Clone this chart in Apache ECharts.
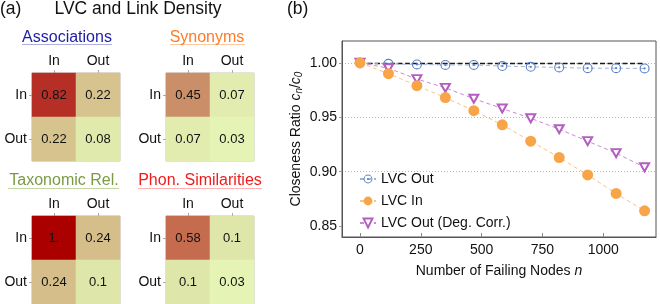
<!DOCTYPE html>
<html>
<head>
<meta charset="utf-8">
<script src="https://cdn.jsdelivr.net/npm/echarts@6/dist/echarts.min.js"></script>
<style>
  html, body { margin: 0; padding: 0; background: #fff; }
  #chart { width: 660px; height: 304px; }
</style>
</head>
<body>
<div id="chart"></div>
<script>
// panel (a): link density matrices, rows / cols = In, Out
const heatLabels = ['In', 'Out']
const heatNames = ['Associations', 'Synonyms', 'Taxonomic Rel.', 'Phon. Similarities']
const associations = [[0.82, 0.22], [0.22, 0.08]]
const synonyms = [[0.45, 0.07], [0.07, 0.03]]
const taxonomic = [[1, 0.24], [0.24, 0.1]]
const phonSim = [[0.58, 0.1], [0.1, 0.03]]

// panel (b): closeness ratio vs failing nodes
const failingNodes = [0, 117, 234, 351, 468, 585, 702, 819, 936, 1053, 1170]
const lvcOut = [1.000, 0.999, 0.9985, 0.998, 0.998, 0.997, 0.9963, 0.9957, 0.995, 0.995, 0.9948]
const lvcIn = [1.000, 0.990, 0.979, 0.968, 0.956, 0.943, 0.928, 0.913, 0.897, 0.880, 0.864]
const lvcOutDeg = [1.000, 0.995, 0.985, 0.977, 0.967, 0.958, 0.949, 0.939, 0.928, 0.917, 0.904]
const baselineNodes = [0, 1170]
const baselineRatio = [1, 1]
const xTicks = [0, 250, 500, 750, 1000]
const yTicks = [0.85, 0.90, 0.95, 1.00]

let myChart = echarts.init(document.getElementById('chart'))
const font = "'Liberation Sans', Arial, sans-serif"

const matrices = [associations, synonyms, taxonomic, phonSim]
const titleColors = ['#1d1da6', '#ff7b25', '#7c9a43', '#f01c1c']
const underColors = ['#aeb0dc', '#ffcaa3', '#c5d6a6', '#ffb0b0']
const boxes = [
  { left: 32, top: 73, cx: 67 },
  { left: 166, top: 73, cx: 207 },
  { left: 32, top: 216, cx: 64 },
  { left: 166, top: 216, cx: 200 }
]

var grids = [], xAxes = [], yAxes = [], seriesArr = [], titleArr = [], graphics = []

titleArr.push({ text: 'LVC and Link Density', left: 138, top: 0, textAlign: 'center', padding: 0,
  textStyle: { fontFamily: font, fontWeight: 'normal', fontSize: 17.5, color: '#111' } })
titleArr.push({ text: '(a)', left: 0, top: 0, padding: 0,
  textStyle: { fontFamily: font, fontWeight: 'normal', fontSize: 17.5, color: '#111' } })
titleArr.push({ text: '(b)', left: 287, top: 0, padding: 0,
  textStyle: { fontFamily: font, fontWeight: 'normal', fontSize: 17.5, color: '#111' } })

matrices.forEach(function (m, k) {
  let b = boxes[k]
  grids.push({ left: b.left, top: b.top, width: 88, height: 88, show: true,
    borderColor: '#c4c4c4', borderWidth: 1 })
  xAxes.push({
    gridIndex: k, type: 'category', data: heatLabels, position: 'top',
    axisLine: { show: false, onZero: false },
    axisTick: { show: true, alignWithLabel: true, length: 3, lineStyle: { color: '#aaa' } },
    axisLabel: { fontFamily: font, fontSize: 14, color: '#111', margin: 5 },
    splitLine: { show: false }
  })
  yAxes.push({
    gridIndex: k, type: 'category', data: heatLabels, inverse: true,
    axisLine: { show: false, onZero: false },
    axisTick: { show: true, alignWithLabel: true, length: 3, lineStyle: { color: '#aaa' } },
    axisLabel: { fontFamily: font, fontSize: 14, color: '#111', margin: 5 },
    splitLine: { show: false }
  })
  let data = []
  m.forEach(function (row, r) {
    row.forEach(function (v, c) { data.push([c, r, v]) })
  })
  seriesArr.push({
    type: 'heatmap', xAxisIndex: k, yAxisIndex: k, data: data,
    label: {
      show: true, fontFamily: font, fontSize: 13, color: '#111',
      formatter: function (p) { return p.value[2] === 1 ? '1.' : String(p.value[2]) }
    },
    emphasis: { disabled: true }
  })
  titleArr.push({ text: heatNames[k], left: b.cx, top: b.top - 43, textAlign: 'center', padding: 0,
    textStyle: { fontFamily: font, fontWeight: 'normal', fontSize: 16, color: titleColors[k] } })
})

// link-style underlines under the four headings
const underSpans = [[22, 112, 44.5], [170, 245, 44.5], [8, 119, 188.5], [138, 262, 188.5]]
underSpans.forEach(function (u, k) {
  graphics.push({ type: 'line', shape: { x1: u[0], y1: u[2], x2: u[1], y2: u[2] },
    style: { stroke: underColors[k], lineWidth: 1 }, silent: true })
})

// panel (b), framed by the grid border
grids.push({ left: 342, top: 41, right: 4, bottom: 67, show: true, borderColor: '#555', borderWidth: 1 })
xAxes.push({
  gridIndex: 4, type: 'value', min: -74, max: 1217,
  name: 'Number of Failing Nodes {i|n}', nameLocation: 'middle', nameGap: 27,
  nameTextStyle: { fontFamily: font, fontSize: 14, color: '#111',
    rich: { i: { fontFamily: font, fontSize: 14, fontStyle: 'italic', color: '#111' } } },
  axisLine: { show: true, onZero: false, lineStyle: { color: '#555' } },
  axisTick: { show: true, inside: true, length: 4, customValues: xTicks, lineStyle: { color: '#888' } },
  axisLabel: { fontFamily: font, fontSize: 14, color: '#111', margin: 6, customValues: xTicks,
    formatter: function (v) { return String(v) } },
  splitLine: { show: false }
})
yAxes.push({
  gridIndex: 4, type: 'value', min: 0.84, max: 1.02,
  name: 'Closeness Ratio {i|c}{s|n}{t|/}{i|c}{s|0}', nameLocation: 'middle', nameGap: 38,
  nameTextStyle: { fontFamily: font, fontSize: 14, color: '#111',
    rich: {
      i: { fontFamily: font, fontSize: 14, fontStyle: 'italic', color: '#111' },
      t: { fontFamily: font, fontSize: 14, color: '#111' },
      s: { fontFamily: font, fontSize: 10, fontStyle: 'italic', color: '#111', padding: [5, 0, 0, 0] }
    } },
  axisLine: { show: true, onZero: false, lineStyle: { color: '#555' } },
  axisTick: { show: true, length: 3, customValues: yTicks, lineStyle: { color: '#999' } },
  axisLabel: { fontFamily: font, fontSize: 14, color: '#111', margin: 5, customValues: yTicks,
    formatter: function (v) { return v.toFixed(2) } },
  // dotted grid lines at 0.90, 0.95, 1.00 only
  splitLine: { show: true, lineStyle: { color: ['rgba(0,0,0,0)', '#b8b8b8', '#b8b8b8', '#b8b8b8'], type: [1, 2], width: 1 } }
})

function pairs (xs, ys) { return xs.map(function (x, i) { return [x, ys[i]] }) }

const ringDot = 'path://M0,-10A10,10,0,1,1,0,10A10,10,0,1,1,0,-10ZM0,-7.8A7.8,7.8,0,1,0,0,7.8A7.8,7.8,0,1,0,0,-7.8ZM0,-2.2A2.2,2.2,0,1,1,0,2.2A2.2,2.2,0,1,1,0,-2.2Z'

// the black dashed reference level rides on the LVC Out series as a mark line
let baseline = pairs(baselineNodes, baselineRatio)

seriesArr.push({
  name: 'LVC Out', type: 'line', xAxisIndex: 4, yAxisIndex: 4,
  data: pairs(failingNodes, lvcOut), symbol: ringDot, symbolSize: 10,
  itemStyle: { color: '#5b80c4' },
  lineStyle: { color: '#9fb4e0', type: [4, 3], width: 1 },
  markLine: {
    silent: true, symbol: 'none', label: { show: false }, z: 1,
    lineStyle: { color: '#1a1a1a', type: [5, 2.5], width: 1.4 },
    data: [[{ coord: baseline[0] }, { coord: baseline[1] }]]
  },
  z: 3
})
seriesArr.push({
  name: 'LVC Out (Deg. Corr.)', type: 'line', xAxisIndex: 4, yAxisIndex: 4,
  data: pairs(failingNodes, lvcOutDeg), symbol: 'emptyTriangle', symbolRotate: 180, symbolSize: [9, 8],
  itemStyle: { color: '#b35ec0', borderWidth: 1 },
  lineStyle: { color: '#c98ad3', type: [4, 3], width: 1 },
  z: 4
})
seriesArr.push({
  name: 'LVC In', type: 'line', xAxisIndex: 4, yAxisIndex: 4,
  data: pairs(failingNodes, lvcIn), symbol: 'circle', symbolSize: 11,
  itemStyle: { color: '#f8a548' },
  lineStyle: { color: '#fac38a', type: [4, 3], width: 1 },
  z: 5
})

let option = {
  backgroundColor: '#fff',
  animation: false,
  textStyle: { fontFamily: font },
  title: titleArr,
  grid: grids,
  xAxis: xAxes,
  yAxis: yAxes,
  visualMap: {
    type: 'continuous', show: false, min: 0, max: 1, seriesIndex: [0, 1, 2, 3],
    inRange: { color: ['#e8fab8', '#dfe6aa', '#d8c892', '#d2b080', '#cc9a72', '#c78460',
      '#c4664b', '#bf4c3a', '#b8342a', '#b01a16', '#aa0000'] }
  },
  legend: {
    data: ['LVC Out', 'LVC In', 'LVC Out (Deg. Corr.)'],
    orient: 'vertical', left: 354, top: 167, itemWidth: 16, itemHeight: 11, itemGap: 8,
    textStyle: { fontFamily: font, fontSize: 14, color: '#111' }
  },
  graphic: graphics,
  series: seriesArr
}
myChart.setOption(option, true)

// drop a stray full-height vertical line that shows up at n = 0 in panel (b)
try {
  let zr = myChart.getZr()
  let x0 = myChart.convertToPixel({ gridIndex: 4 }, [0, 1])[0]
  let top = myChart.convertToPixel({ gridIndex: 4 }, [0, 1.02])[1]
  let bottom = myChart.convertToPixel({ gridIndex: 4 }, [0, 0.84])[1]
  let span = bottom - top
  zr.storage.getDisplayList(true).forEach(function (el) {
    if (!el.getBoundingRect) return
    let r = el.getBoundingRect().clone()
    let m = el.getComputedTransform ? el.getComputedTransform() : el.transform
    if (m) r.applyTransform(m)
    if (r.width <= 3 && r.height > span * 0.8 && Math.abs(r.x + r.width / 2 - x0) < 4) {
      el.ignore = true
      el.markRedraw()
    }
  })
  zr.refreshImmediately()
} catch (e) {}
</script>
</body>
</html>
